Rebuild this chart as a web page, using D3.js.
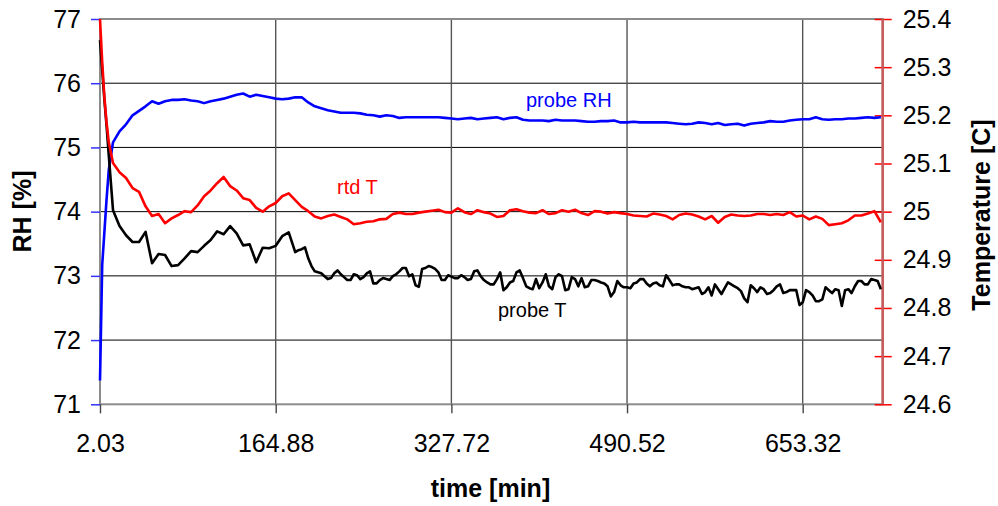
<!DOCTYPE html>
<html>
<head>
<meta charset="utf-8">
<script src="https://cdn.jsdelivr.net/npm/d3@7"></script>
<style>
  body { margin: 0; background: #fff; }
  svg { display: block; font-family: "Liberation Sans", Arial, sans-serif; }
</style>
</head>
<body>
<svg id="chart" width="998" height="506"></svg>
<script>
// sample times [min]
const time = [
  2.03, 4.07, 6.10, 8.06, 10.17, 14.09, 20.12, 26.16, 32.19, 38.22, 44.25, 50.28, 56.31, 62.35,
  68.38, 74.41, 80.44, 86.47, 92.50, 98.53, 104.57, 110.60, 116.63, 122.66,
  128.69, 134.72, 140.75, 146.79, 152.82, 158.85, 164.88, 170.91, 176.94, 182.98,
  189.01, 195.04, 201.07, 207.10, 213.13, 219.16, 225.20, 231.23, 237.26, 243.29,
  249.32, 255.35, 261.38, 267.42, 273.45, 279.48, 285.51, 291.54, 297.57, 303.61,
  309.64, 315.67, 321.70, 327.73, 333.76, 339.79, 345.83, 351.86, 357.89, 363.92,
  369.95, 375.98, 382.01, 388.05, 394.08, 400.11, 406.14, 412.17, 418.20, 424.24,
  430.27, 436.30, 442.33, 448.36, 454.39, 460.42, 466.46, 472.49, 478.52, 484.55,
  490.58, 496.61, 502.64, 508.68, 514.71, 520.74, 526.77, 532.80, 538.83, 544.87,
  550.90, 556.93, 562.96, 568.99, 575.02, 581.05, 587.09, 593.12, 599.15, 605.18,
  611.21, 617.24, 623.27, 629.31, 635.34, 641.37, 647.40, 653.43, 659.46, 665.49,
  671.53, 677.56, 683.59, 689.62, 695.65, 701.68, 707.72, 713.75, 719.78, 725.81
];

// probe RH [%] (left axis)
const probeRH = [
  71.37, 73.17, 73.68, 74.18, 74.65, 75.08,
  75.25, 75.36, 75.50, 75.57, 75.64, 75.72, 75.68, 75.72,
  75.74, 75.74, 75.75, 75.73, 75.72, 75.69, 75.72, 75.74, 75.76, 75.79,
  75.82, 75.84, 75.79, 75.82, 75.80, 75.78, 75.76, 75.75, 75.76, 75.78,
  75.78, 75.70, 75.64, 75.61, 75.58, 75.56, 75.54, 75.54, 75.54, 75.53,
  75.51, 75.50, 75.48, 75.50, 75.49, 75.46, 75.47, 75.47, 75.47, 75.47,
  75.47, 75.47, 75.46, 75.45, 75.44, 75.45, 75.46, 75.44, 75.45, 75.46,
  75.47, 75.44, 75.46, 75.47, 75.43, 75.42, 75.42, 75.42, 75.41, 75.43,
  75.42, 75.42, 75.42, 75.41, 75.40, 75.40, 75.41, 75.41, 75.42, 75.39,
  75.39, 75.40, 75.39, 75.39, 75.39, 75.39, 75.39, 75.38, 75.37, 75.36,
  75.37, 75.39, 75.38, 75.36, 75.38, 75.35, 75.36, 75.37, 75.34, 75.37,
  75.38, 75.39, 75.41, 75.40, 75.40, 75.42, 75.43, 75.44, 75.44, 75.47,
  75.44, 75.43, 75.44, 75.44, 75.45, 75.45, 75.46, 75.47, 75.46, 75.47
];

// rtd T [C] (right axis)
const rtdT = [
  25.400, 25.311, 25.238, 25.186, 25.144, 25.101,
  25.082, 25.070, 25.049, 25.041, 25.011, 24.991, 24.995, 24.976,
  24.986, 24.993, 25.001, 24.999, 25.013, 25.032, 25.044, 25.059, 25.072, 25.053,
  25.044, 25.028, 25.024, 25.008, 25.000, 25.011, 25.018, 25.032, 25.038, 25.024,
  25.010, 25.001, 24.990, 24.986, 24.991, 24.994, 24.989, 24.984, 24.974, 24.976,
  24.979, 24.980, 24.984, 24.985, 24.995, 24.998, 24.995, 24.995, 24.998, 25.000,
  25.002, 25.004, 24.999, 24.998, 25.007, 24.999, 24.995, 25.003, 24.999, 24.996,
  24.989, 24.991, 25.003, 25.005, 25.001, 24.998, 24.997, 25.003, 24.995, 24.997,
  25.003, 25.000, 25.004, 24.997, 24.993, 25.001, 25.000, 24.996, 24.999, 24.997,
  24.995, 24.992, 24.991, 24.990, 24.996, 24.994, 24.991, 24.984, 24.993, 24.996,
  24.994, 24.990, 24.984, 24.991, 24.977, 24.989, 24.994, 24.992, 24.991, 24.992,
  24.995, 24.995, 24.993, 24.995, 24.993, 24.999, 24.990, 24.992, 24.984, 24.990,
  24.985, 24.972, 24.974, 24.976, 24.982, 24.992, 24.992, 24.996, 25.001, 24.978
];

// probe T [C] (right axis), on the same times as above
const probeT = [
  25.356, 25.294, 25.232, 25.180, 25.117, 25.003,
  24.970, 24.951, 24.937, 24.937, 24.958, 24.893, 24.912, 24.910,
  24.887, 24.889, 24.903, 24.918, 24.916, 24.929, 24.941, 24.959, 24.953, 24.970,
  24.955, 24.930, 24.932, 24.895, 24.925, 24.924, 24.929, 24.949, 24.957, 24.916,
  24.922, 24.903, 24.876, 24.872, 24.860, 24.872, 24.870, 24.858, 24.870, 24.860,
  24.872, 24.851, 24.858, 24.860, 24.866, 24.876, 24.883, 24.870, 24.844, 24.883,
  24.885, 24.874, 24.858, 24.865, 24.862, 24.864, 24.860, 24.878, 24.858, 24.849,
  24.860, 24.837, 24.853, 24.874, 24.862, 24.841, 24.860, 24.853, 24.845, 24.864,
  24.866, 24.839, 24.860, 24.862, 24.845, 24.858, 24.853, 24.845, 24.833, 24.847,
  24.843, 24.851, 24.860, 24.851, 24.851, 24.847, 24.868, 24.847, 24.849, 24.843,
  24.839, 24.843, 24.833, 24.826, 24.839, 24.841, 24.849, 24.841, 24.820, 24.847,
  24.833, 24.839, 24.831, 24.845, 24.831, 24.837, 24.837, 24.812, 24.833, 24.814,
  24.818, 24.837, 24.839, 24.804, 24.839, 24.845, 24.856, 24.849, 24.858, 24.839
];

// extra probe T samples in between (the noisy part of the run)
const probeTMidTime = [
  185.99, 192.03, 198.06, 204.09, 210.12, 216.15, 222.18, 228.21, 234.24, 240.28,
  246.31, 252.34, 258.37, 264.40, 270.43, 276.46, 282.50, 288.53, 294.56, 300.59,
  306.62, 312.65, 318.68, 324.72, 330.75, 336.78, 342.81, 348.84, 354.87, 360.90,
  366.94, 372.97, 379.00, 385.03, 391.06, 397.09, 403.13, 409.16, 415.19, 421.22,
  427.25, 433.28, 439.31, 445.35, 451.38, 457.41, 463.44, 469.47, 475.50, 481.53,
  487.57, 493.60, 499.63, 505.66, 511.69, 517.72, 523.75, 529.79, 535.82, 541.85,
  547.88, 553.91, 559.94, 565.98, 572.01, 578.04, 584.07, 590.10, 596.13, 602.17,
  608.20, 614.23, 620.26, 626.29, 632.32, 638.35, 644.39, 650.42, 656.45, 662.48,
  668.51, 674.54, 680.57, 686.61, 692.64, 698.67, 704.70, 710.73, 716.76, 722.80
];
const probeTMid = [
  24.920, 24.926, 24.887, 24.874, 24.866, 24.862, 24.878, 24.864, 24.858, 24.868,
  24.864, 24.876, 24.851, 24.862, 24.858, 24.870, 24.883, 24.866, 24.847, 24.881,
  24.887, 24.881, 24.858, 24.868, 24.862, 24.868, 24.858, 24.876, 24.866, 24.853,
  24.849, 24.874, 24.843, 24.856, 24.878, 24.845, 24.839, 24.841, 24.870, 24.839,
  24.870, 24.837, 24.864, 24.845, 24.843, 24.858, 24.856, 24.851, 24.824, 24.856,
  24.843, 24.841, 24.853, 24.860, 24.845, 24.853, 24.845, 24.858, 24.849, 24.845,
  24.843, 24.841, 24.829, 24.843, 24.849, 24.829, 24.853, 24.845, 24.835, 24.812,
  24.841, 24.843, 24.829, 24.837, 24.849, 24.833, 24.837, 24.806, 24.837, 24.826,
  24.814, 24.843, 24.831, 24.837, 24.837, 24.831, 24.856, 24.849, 24.860, 24.856
];

const timeTicks = [2.03, 164.88, 327.72, 490.52, 653.32];
const rhTicks = [71, 72, 73, 74, 75, 76, 77];
const tempTicks = [24.6, 24.7, 24.8, 24.9, 25, 25.1, 25.2, 25.3, 25.4];

const plot = { left: 100, right: 882.7, top: 19, bottom: 404.3 };

const svg = d3.select("#chart");

const x = d3.scaleLinear()
  .domain([2.03, 727.5])
  .range([plot.left, plot.right]);

const yRH = d3.scaleLinear()
  .domain([71, 77])
  .range([plot.bottom, plot.top]);

const yT = d3.scaleLinear()
  .domain([24.6, 25.4])
  .range([plot.bottom, plot.top]);

// gridlines
svg.append("g")
  .selectAll("line")
  .data(rhTicks.slice(1, -1))
  .join("line")
  .attr("x1", plot.left).attr("x2", plot.right)
  .attr("y1", d => yRH(d)).attr("y2", d => yRH(d))
  .attr("stroke", "#000").attr("stroke-width", 1);

svg.append("g")
  .selectAll("line")
  .data(timeTicks.slice(1))
  .join("line")
  .attr("x1", d => x(d)).attr("x2", d => x(d))
  .attr("y1", plot.top).attr("y2", plot.bottom)
  .attr("stroke", "#555").attr("stroke-width", 1.4);

// plot border
svg.append("rect")
  .attr("x", plot.left).attr("y", plot.top)
  .attr("width", plot.right - plot.left)
  .attr("height", plot.bottom - plot.top)
  .attr("fill", "none")
  .attr("stroke", "#8c8c8c")
  .attr("stroke-width", 2);

// bottom axis
svg.append("g")
  .attr("transform", `translate(0,${plot.bottom})`)
  .call(d3.axisBottom(x).tickValues(timeTicks).tickSize(9).tickPadding(21)
    .tickFormat(d => d.toFixed(2)))
  .call(g => g.select(".domain").remove())
  .call(g => g.selectAll(".tick line").attr("stroke", "#444").attr("stroke-width", 1.4))
  .call(g => g.selectAll("text").attr("font-size", 25).attr("fill", "#000"))
  .attr("font-family", null);

// left axis (RH)
svg.append("g")
  .attr("transform", `translate(${plot.left},0)`)
  .call(d3.axisLeft(yRH).tickValues(rhTicks).tickSize(9).tickPadding(10)
    .tickFormat(d => String(d)))
  .call(g => g.select(".domain").remove())
  .call(g => g.selectAll(".tick line").attr("stroke", "#3333ff").attr("stroke-width", 1.5))
  .call(g => g.selectAll("text").attr("font-size", 25).attr("fill", "#000"))
  .attr("font-family", null);

// right axis (temperature)
svg.append("g")
  .attr("transform", `translate(${plot.right},0)`)
  .call(d3.axisRight(yT).tickValues(tempTicks).tickSize(9).tickPadding(11)
    .tickFormat(d => String(d)))
  .call(g => g.select(".domain").remove())
  .call(g => g.selectAll(".tick line").attr("x1", -8).attr("stroke", "#ff0000").attr("stroke-width", 1.5))
  .call(g => g.selectAll("text").attr("font-size", 25).attr("fill", "#000"))
  .attr("font-family", null);

svg.append("line")
  .attr("x1", plot.right).attr("x2", plot.right)
  .attr("y1", plot.top).attr("y2", plot.bottom)
  .attr("stroke", "#c85a5a").attr("stroke-width", 2.5);

// series lines
const lineRH = d3.line().x((d, i) => x(time[i])).y(d => yRH(d));
const lineT = d3.line().x((d, i) => x(time[i])).y(d => yT(d));

// probe T points: main samples plus the in-between ones, sorted by time
const probeTPoints = d3.zip(time, probeT)
  .concat(d3.zip(probeTMidTime, probeTMid))
  .sort((a, b) => a[0] - b[0]);
const lineProbeT = d3.line().x(d => x(d[0])).y(d => yT(d[1]));

svg.append("path").datum(probeRH)
  .attr("d", lineRH).attr("fill", "none")
  .attr("stroke", "#0000ff").attr("stroke-width", 2.6).attr("stroke-linejoin", "round");

svg.append("path").datum(probeTPoints)
  .attr("d", lineProbeT).attr("fill", "none")
  .attr("stroke", "#000").attr("stroke-width", 2.6).attr("stroke-linejoin", "round");

svg.append("path").datum(rtdT)
  .attr("d", lineT).attr("fill", "none")
  .attr("stroke", "#ff0000").attr("stroke-width", 2.6).attr("stroke-linejoin", "round");

// series labels
svg.append("text").attr("x", 526).attr("y", 107)
  .attr("font-size", 20).attr("fill", "#0000ff").text("probe RH");
svg.append("text").attr("x", 337).attr("y", 194)
  .attr("font-size", 20).attr("fill", "#ff0000").text("rtd T");
svg.append("text").attr("x", 498).attr("y", 317)
  .attr("font-size", 20).attr("fill", "#000").text("probe T");

// axis titles
svg.append("text")
  .attr("x", 490.5).attr("y", 497)
  .attr("text-anchor", "middle")
  .attr("font-size", 25).attr("font-weight", "bold")
  .text("time [min]");

svg.append("text")
  .attr("transform", "translate(31,211.5) rotate(-90)")
  .attr("text-anchor", "middle")
  .attr("font-size", 25).attr("font-weight", "bold")
  .text("RH [%]");

svg.append("text")
  .attr("transform", "translate(990,215) rotate(-90)")
  .attr("text-anchor", "middle")
  .attr("font-size", 25).attr("font-weight", "bold")
  .text("Temperature [C]");
</script>
</body>
</html>
